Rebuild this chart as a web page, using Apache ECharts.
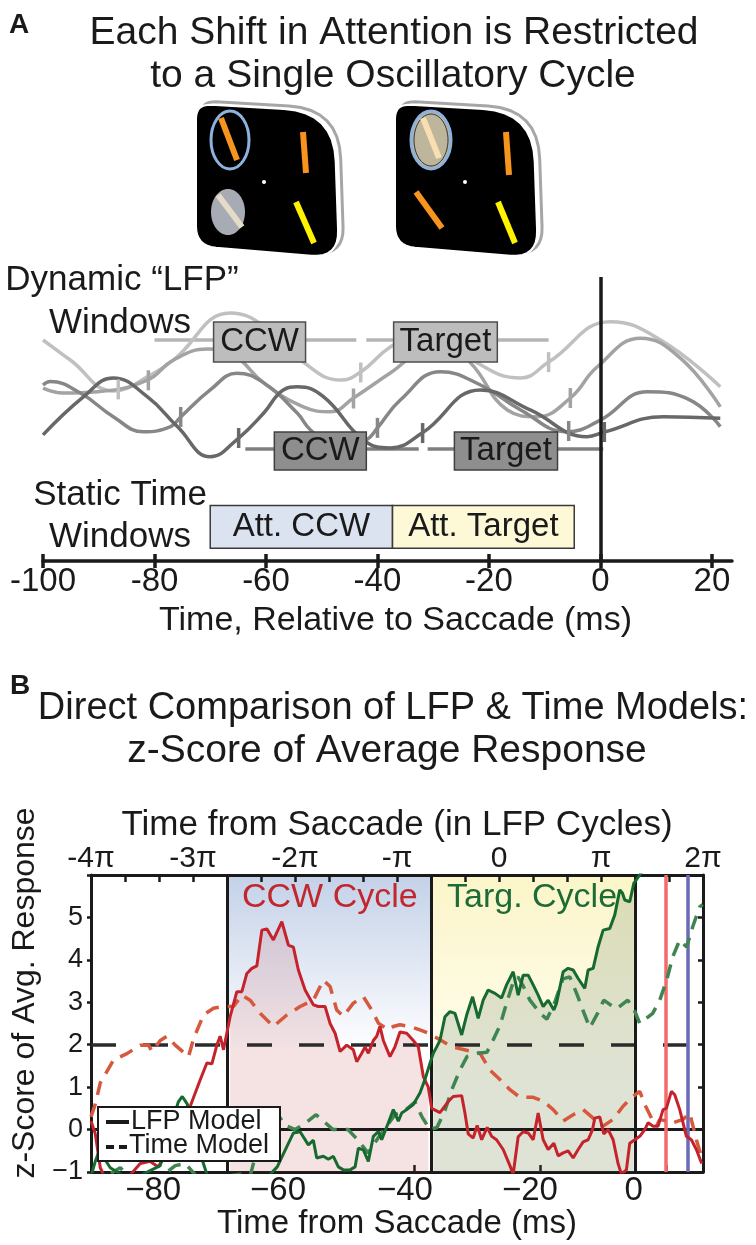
<!DOCTYPE html>
<html>
<head>
<meta charset="utf-8">
<script src="https://cdn.jsdelivr.net/npm/echarts@6/dist/echarts.min.js"></script>
<style>
  html, body { margin: 0; padding: 0; background: #fff; }
  #main { width: 756px; height: 1245px; }
</style>
</head>
<body>
<div id="main"></div>
<script>
// ---------- Panel B data: x = LFP phase (units of pi), y = z-score ----------
const lfpCCW = [[-4.00,0.2],[-3.958,-0.1],[-3.909,-0.9],[-3.831,-1.3],[-3.664,-1.2],[-3.517,-0.8],[-3.419,-0.75],[-3.341,-0.88],[-3.243,-0.5],[-3.145,-0.1],[-3.076,0.25],[-3.027,0.55],[-2.930,1.17],[-2.864,1.57],[-2.815,1.55],[-2.766,1.99],[-2.734,2.2],[-2.701,1.88],[-2.636,2.66],[-2.570,3.25],[-2.521,3.25],[-2.472,3.68],[-2.423,3.8],[-2.374,3.86],[-2.325,4.7],[-2.276,4.73],[-2.212,4.47],[-2.129,4.9],[-2.065,4.35],[-2.016,4.3],[-1.967,3.76],[-1.901,3.29],[-1.820,2.94],[-1.771,2.9],[-1.705,2.9],[-1.656,2.5],[-1.607,2.27],[-1.558,1.84],[-1.493,1.99],[-1.428,1.88],[-1.395,1.6],[-1.346,1.8],[-1.313,1.95],[-1.281,1.8],[-1.232,2.1],[-1.199,2.2],[-1.167,2.43],[-1.134,2.1],[-1.069,1.72],[-1.020,1.95],[-0.971,2.3],[-0.905,2.27],[-0.840,2.1],[-0.791,1.95],[-0.742,1.25],[-0.693,1.0],[-0.66,0.5],[-0.579,0.4],[-0.498,0.66],[-0.449,0.78],[-0.366,0.8],[-0.334,0.39],[-0.302,-0.1],[-0.253,-0.2],[-0.214,0.1],[-0.170,-0.24],[-0.116,0.05],[-0.072,-0.16],[-0.024,-0.24],[0.041,-0.47],[0.107,-0.85],[0.139,-1.05],[0.188,-0.17],[0.237,-0.05],[0.286,-0.08],[0.335,-0.24],[0.384,0.39],[0.433,-0.24],[0.482,-0.47],[0.538,-0.32],[0.580,-0.62],[0.629,-0.55],[0.678,-0.5],[0.727,-0.67],[0.776,-0.47],[0.825,-0.29],[0.874,-0.24],[0.917,0.0],[0.939,0.27],[0.988,0.3],[1.027,-0.1],[1.070,0.0],[1.119,-0.24],[1.167,-0.8],[1.200,-1.05],[1.249,-0.95],[1.282,-0.32],[1.331,-0.24],[1.380,-0.16],[1.429,0.0],[1.462,0.16],[1.511,0.08],[1.560,0.08],[1.608,0.47],[1.641,0.5],[1.690,0.9],[1.723,0.82],[1.772,0.47],[1.837,-0.16],[1.886,-0.24],[1.935,-0.47],[1.987,-0.8]];

const lfpTarg = [[-4.00,-1.1],[-3.958,-0.75],[-3.919,-0.5],[-3.811,-0.9],[-3.615,-1.2],[-3.321,-0.85],[-3.203,0.2],[-3.144,0.65],[-3.105,0.78],[-3.056,0.6],[-2.978,-0.2],[-2.831,-1.3],[-2.342,-1.3],[-2.174,-0.88],[-2.080,-0.4],[-2.015,-0.08],[-1.950,-0.05],[-1.869,-0.36],[-1.820,-0.25],[-1.787,-0.67],[-1.722,-0.63],[-1.673,-0.7],[-1.624,-0.63],[-1.575,-0.88],[-1.526,-0.95],[-1.460,-0.95],[-1.411,-0.88],[-1.379,-0.44],[-1.330,-0.48],[-1.281,-0.75],[-1.232,-0.16],[-1.183,-0.05],[-1.150,-0.24],[-1.085,0.16],[-1.036,0.47],[-0.987,0.2],[-0.954,0.39],[-0.905,0.47],[-0.840,0.59],[-0.775,0.86],[-0.726,1.18],[-0.677,1.56],[-0.644,1.8],[-0.611,1.95],[-0.579,2.1],[-0.530,2.66],[-0.481,2.78],[-0.432,2.74],[-0.366,2.23],[-0.317,2.7],[-0.259,3.13],[-0.204,2.62],[-0.155,3.05],[-0.106,3.29],[-0.040,3.21],[0.025,3.1],[0.074,3.41],[0.139,3.72],[0.188,3.17],[0.237,3.64],[0.286,3.64],[0.335,3.41],[0.384,3.17],[0.433,2.9],[0.482,3.05],[0.538,2.82],[0.564,2.98],[0.629,3.72],[0.678,3.8],[0.727,3.76],[0.776,3.56],[0.841,3.33],[0.874,3.76],[0.923,3.8],[0.972,4.31],[1.021,4.7],[1.086,4.74],[1.135,5.06],[1.184,5.65],[1.211,5.57],[1.233,5.41],[1.282,5.37],[1.321,5.8],[1.380,6.0],[1.478,6.4],[1.968,6.8]];

const timeCCW = [[-4.0,0.3],[-3.958,0.6],[-3.909,1.1],[-3.779,1.64],[-3.648,1.79],[-3.517,1.99],[-3.436,1.99],[-3.402,1.84],[-3.321,2.1],[-3.255,2.2],[-3.174,1.99],[-3.044,1.72],[-2.995,2.14],[-2.897,2.7],[-2.799,2.86],[-2.701,2.9],[-2.603,2.9],[-2.521,3.17],[-2.440,3.05],[-2.342,2.74],[-2.212,2.43],[-2.080,2.7],[-1.950,2.9],[-1.820,3.05],[-1.722,3.52],[-1.656,3.37],[-1.591,2.82],[-1.526,2.67],[-1.428,2.98],[-1.330,3.13],[-1.248,2.82],[-1.183,2.51],[-1.085,2.35],[-1.036,2.43],[-0.971,2.47],[-0.873,2.43],[-0.775,2.35],[-0.693,2.27],[-0.579,2.12],[-0.464,1.95],[-0.317,1.87],[-0.187,1.8],[-0.089,1.4],[0.009,1.18],[0.107,0.94],[0.205,0.76],[0.335,0.76],[0.433,0.67],[0.531,0.47],[0.629,0.2],[0.727,0.35],[0.825,0.47],[0.923,0.27],[1.021,0.08],[1.119,0.24],[1.216,0.55],[1.314,0.78],[1.380,0.9],[1.429,0.59],[1.495,0.27],[1.544,0.08],[1.576,0.24],[1.706,0.16],[1.804,0.24],[1.870,0.39],[1.935,-0.24],[1.984,-0.63]];

const timeTarg = [[-4.0,-1.3],[-3.713,-0.9],[-3.635,-1.1],[-3.419,-1.3],[-3.174,-0.85],[-3.076,-0.8],[-2.929,-1.2],[-2.538,-1.05],[-2.440,-1.1],[-2.322,0.0],[-2.195,0.45],[-2.097,0.1],[-1.999,0.0],[-1.901,0.15],[-1.793,0.35],[-1.627,0.0],[-1.480,0.0],[-1.382,-0.25],[-1.284,-0.55],[-1.186,-0.2],[-1.020,0.35],[-0.922,0.45],[-0.824,0.65],[-0.755,0.3],[-0.677,0.0],[-0.608,0.05],[-0.530,0.45],[-0.461,0.95],[-0.383,1.4],[-0.314,1.72],[-0.207,1.8],[-0.119,1.82],[-0.060,2.1],[0.009,2.45],[0.077,3.0],[0.136,3.45],[0.185,3.6],[0.234,3.4],[0.303,3.05],[0.401,2.75],[0.469,2.6],[0.547,3.0],[0.626,3.55],[0.694,3.6],[0.763,3.2],[0.841,2.7],[0.890,2.4],[0.969,2.75],[1.027,3.05],[1.086,2.95],[1.155,2.85],[1.262,3.05],[1.321,2.85],[1.380,2.5],[1.507,2.74],[1.576,3.05],[1.644,3.52],[1.703,4.07],[1.772,4.47],[1.840,4.3],[1.899,4.78],[1.968,5.25],[1.997,5.3]];

const cycleEdges = [-8 / 3, -2 / 3, 4 / 3];        // CCW cycle, Targ. cycle boundaries
const eventLines = [1.632, 1.853];                   // red and blue markers
const threshold = 2;
const timeLabelPos = [-3.390, -2.166, -0.922, 0.303, 1.321];
const timeLabels = ['\u221280', '\u221260', '\u221240', '\u221220', '0'];
const timeTickPos = [-0.834, 0.401, 1.635];

// ---------- Panel A data: x = time (ms), y = schematic LFP amplitude ----------
const lfpWave1 = [[-100,85.0],[-95.1,77.3],[-87.4,65.4],[-80.7,71.5],[-76.6,77.3],[-66.4,95.4],[-59.2,88.8],[-53.8,77.3],[-46.6,69.6],[-43.0,72.7],[-37.7,82.3],[-30.1,90.4],[-22.1,76.2],[-14.3,70.4],[-9.3,76.5],[1.8,92.0],[10.8,85.0],[21.5,67.0]];
const lfpWave2 = [[-100,66.5],[-96.3,64.6],[-90.2,65.1],[-81.3,69.6],[-76.6,77.3],[-70.5,81.5],[-65.8,79.2],[-60.4,68.5],[-53.3,59.3],[-48.4,57.4],[-44.3,62.7],[-37.7,72.3],[-28.7,84.6],[-23.3,76.2],[-16.7,58.1],[-11.4,55.5],[-5.4,62.7],[-0.6,74.6],[7.2,85.7],[14.3,78.1],[21.5,59.3]];
const lfpWave3 = [[-100,67.7],[-98.7,69.0],[-93.3,64.6],[-87.4,55.5],[-82.0,49.7],[-77.1,51.7],[-75.3,55.4],[-70.0,65.8],[-65.2,72.2],[-60.4,68.5],[-54.4,56.9],[-52.0,50.4],[-46.6,42.7],[-42.0,46.5],[-40.0,51.2],[-35.9,61.9],[-28.7,72.8],[-21.5,67.7],[-14.3,58.1],[-6.0,49.7],[0,54.2],[8.4,65.1],[16.1,61.9],[21.5,51.7]];
const lfpWave4 = [[-100,48.5],[-92.7,63.2],[-87.4,70.4],[-81.3,63.2],[-75.9,51.7],[-70.0,40.1],[-64.9,47.3],[-60.4,56.9],[-56.9,65.8],[-54.4,67.0],[-49.7,63.2],[-42.5,46.5],[-37.7,43.5],[-32.0,49.2],[-21.5,65.8],[-12.6,58.1],[-2.4,47.8],[0.7,49.6],[11.3,55.5],[21.5,54.9]];
const waveTicks = [
  [[-86.5,66.0],[-43.0,72.5],[-9.3,76.5]],
  [[-81.1,69.5],[-44.3,62.5],[-5.4,62.7]],
  [[-75.3,55.4],[-40.0,51.2],[-5.7,50.0]],
  [[-64.9,47.3],[-31.9,49.2],[0.7,49.6]]
];
const topRowLevel = 85.0;
const topRowSegments = [[-80.0,-43.8],[-42.0,-9.3]];
const topRowBoxes = [['CCW',-69.4,-52.9],['Target',-37.1,-18.5]];
const bottomRowLevel = 43.1;
const bottomRowSegments = [[-63.7,-32.6],[-31.0,0.5]];
const bottomRowBoxes = [['CCW',-58.5,-42.0],['Target',-26.2,-7.7]];
const staticWindows = [['Att. CCW',-70.0,-37.3],['Att. Target',-37.3,-4.7]];
const timeTicksA = [-100,-80,-60,-40,-20,0,20];

const FONT = "'Liberation Sans', Arial, Helvetica, sans-serif";
const INK = '#1a1a1a';
const waveColors = ['#c0c0c0', '#a3a3a3', '#878787', '#686868'];

const chart = echarts.init(document.getElementById('main'));

function piLabel(v) {
  const r = Math.round(v);
  if (Math.abs(v - r) > 1e-6) return '';
  if (r === 0) return '0';
  if (r === 1) return '\u03c0';
  if (r === -1) return '-\u03c0';
  return r + '\u03c0';
}
function nearestLabel(v) {
  let best = 0;
  timeLabelPos.forEach((p, i) => { if (Math.abs(p - v) < Math.abs(timeLabelPos[best] - v)) best = i; });
  return timeLabels[best];
}
const inRange = (arr, lo, hi) => arr.filter(p => p[0] >= lo && p[0] <= hi);

function text(t, x, y, size, opts) {
  return Object.assign({
    type: 'text', x: x, y: y, z: 100,
    style: Object.assign({ text: t, fontSize: size, fontFamily: FONT, fill: INK, align: 'center', verticalAlign: 'middle' }, (opts && opts.style) || {})
  }, opts && opts.el || {});
}
function bar(x1, y1, x2, y2, color) {
  return { type: 'line', z: 100, shape: { x1: x1, y1: y1, x2: x2, y2: y2 }, style: { stroke: color, lineWidth: 6 } };
}

// rounded outline of a monitor (decoration): corners with their radii, relative to the top-left
const monitorCorners = [[0, 0, 15], [138, 8, 50], [143, 154, 28], [0, 142, 20]];
function roundedOutline(corners) {
  const pts = [];
  const n = corners.length;
  for (let i = 0; i < n; i++) {
    const v = corners[i], p = corners[(i + n - 1) % n], q = corners[(i + 1) % n];
    const dp = Math.hypot(p[0] - v[0], p[1] - v[1]), dq = Math.hypot(q[0] - v[0], q[1] - v[1]);
    const s = [v[0] + (p[0] - v[0]) * v[2] / dp, v[1] + (p[1] - v[1]) * v[2] / dp];
    const e = [v[0] + (q[0] - v[0]) * v[2] / dq, v[1] + (q[1] - v[1]) * v[2] / dq];
    for (let k = 0; k <= 8; k++) {
      const t = k / 8, a = (1 - t) * (1 - t), b = 2 * t * (1 - t), c = t * t;
      pts.push([a * s[0] + b * v[0] + c * e[0], a * s[1] + b * v[1] + c * e[1]]);
    }
  }
  return pts;
}
const monitorPts = roundedOutline(monitorCorners);
function monitor(x0) {
  return [
    { type: 'polygon', x: x0 + 5, y: 101, z: 99, shape: { points: monitorPts }, style: { fill: null, stroke: '#a6a6a6', lineWidth: 3 } },
    { type: 'polygon', x: x0, y: 104, z: 100, shape: { points: monitorPts }, style: { fill: '#000', stroke: '#fff', lineWidth: 2 } }
  ];
}

const graphics = [].concat(
  [
    text('A', 19, 25, 28, { style: { fontWeight: 'bold' } }),
    text('Each Shift in Attention is Restricted', 394, 33, 39),
    text('to a Single Oscillatory Cycle', 393, 76, 39)
  ],
  monitor(196), monitor(395),
  [
    // left screen
    { type: 'ellipse', z: 101, shape: { cx: 230, cy: 140, rx: 19, ry: 29 }, style: { fill: null, stroke: '#8db2de', lineWidth: 3 } },
    bar(221, 118, 237, 160, '#f7941d'),
    bar(303, 132, 306, 173, '#f7941d'),
    { type: 'circle', z: 101, shape: { cx: 264, cy: 182, r: 2 }, style: { fill: '#fff' } },
    { type: 'ellipse', z: 101, shape: { cx: 228, cy: 212, rx: 17, ry: 23 }, style: { fill: '#a7abb3' } },
    Object.assign(bar(218, 195, 242, 227, '#e6dac8'), { z: 102 }),
    bar(296, 202, 314, 243, '#fff200'),
    // right screen
    { type: 'ellipse', z: 101, shape: { cx: 431, cy: 140, rx: 20, ry: 29 }, style: { fill: '#bdb59c', stroke: '#8db2de', lineWidth: 3 } },
    { type: 'ellipse', z: 102, shape: { cx: 431, cy: 140, rx: 17, ry: 26 }, style: { fill: null, stroke: '#333', lineWidth: 1 } },
    Object.assign(bar(423, 118, 439, 158, '#f8deb0'), { z: 103 }),
    bar(506, 132, 509, 175, '#f7941d'),
    { type: 'circle', z: 101, shape: { cx: 465, cy: 182, r: 2 }, style: { fill: '#fff' } },
    bar(416, 192, 442, 228, '#f7941d'),
    bar(498, 202, 515, 243, '#fff200'),

    text('Dynamic \u201cLFP\u201d', 122, 280, 35),
    text('Windows', 120, 323, 35),
    text('Static Time', 120, 495, 35),
    text('Windows', 120, 537, 35),

    text('B', 20, 686, 28, { style: { fontWeight: 'bold' } }),
    text('Direct Comparison of LFP & Time Models:', 393, 709, 38),
    text('z-Score of Average Response', 387, 751, 39),
    text('z-Score of Avg. Response', 25, 993, 32, { el: { rotation: Math.PI / 2 } }),
    text('CCW Cycle', 242, 898, 34, { style: { align: 'left', fill: '#c1272d' } }),
    text('Targ. Cycle', 447, 898, 34, { style: { align: 'left', fill: '#1d6b36' } }),

    // legend
    { type: 'rect', z: 100, shape: { x: 98, y: 1107, width: 182, height: 54 }, style: { fill: '#fff', stroke: INK, lineWidth: 2 } },
    { type: 'line', z: 101, shape: { x1: 106, y1: 1122, x2: 129, y2: 1122 }, style: { stroke: INK, lineWidth: 4 } },
    { type: 'line', z: 101, shape: { x1: 106, y1: 1147, x2: 129, y2: 1147 }, style: { stroke: INK, lineWidth: 4, lineDash: [8, 5] } },
    text('LFP Model', 131, 1122, 27, { style: { align: 'left' } }),
    text('Time Model', 129, 1146, 27, { style: { align: 'left' } })
  ]
);

const blueGrad = new echarts.graphic.LinearGradient(0, 0, 0, 1, [
  { offset: 0, color: '#c3d1e8' }, { offset: 0.6, color: '#ffffff' }, { offset: 1, color: '#ffffff' }]);
const yellowGrad = new echarts.graphic.LinearGradient(0, 0, 0, 1, [
  { offset: 0, color: '#fbf5c8' }, { offset: 0.7, color: '#fffef2' }, { offset: 1, color: '#fffef2' }]);

const boxLabel = { show: true, position: 'inside', fontSize: 33, fontFamily: FONT, color: INK };
function boxes(list, yLo, yHi, fill, border) {
  return list.map(b => [
    { name: b[0], coord: [b[1], yHi], itemStyle: { color: fill, borderColor: border, borderWidth: 1.5, opacity: 1 } },
    { coord: [b[2], yLo] }
  ]);
}
function segs(list, level, style) {
  return list.map(s => [{ coord: [s[0], level], lineStyle: style }, { coord: [s[1], level] }]);
}
function markerSeries(name, z, extra) {
  return Object.assign({ name: name, type: 'line', xAxisIndex: 2, yAxisIndex: 2, data: [], z: z, silent: true }, extra);
}
const solid = (color, width) => ({ color: color, width: width, type: 'solid' });

const option = {
  animation: false,
  textStyle: { fontFamily: FONT },
  graphic: { elements: graphics },
  grid: [
    { left: 91, top: 875, width: 612, height: 297 },
    { left: 43, top: 275, width: 689, height: 286 }
  ],
  xAxis: [
    { gridIndex: 0, type: 'value', position: 'bottom', min: -4, max: 2,
      axisLine: { onZero: false, lineStyle: { color: INK, width: 3 } },
      axisTick: { inside: true, length: 7, customValues: timeTickPos, lineStyle: { color: INK, width: 2.5 } },
      axisLabel: { customValues: timeLabelPos, formatter: v => nearestLabel(v), fontSize: 33, margin: 2, color: INK, fontFamily: FONT },
      splitLine: { show: false },
      name: 'Time from Saccade (ms)', nameLocation: 'middle', nameGap: 34,
      nameTextStyle: { fontSize: 33, color: INK, fontFamily: FONT } },
    { gridIndex: 0, type: 'value', position: 'top', min: -4, max: 2, interval: 1,
      axisLine: { onZero: false, lineStyle: { color: INK, width: 3 } },
      axisTick: { inside: true, length: 7, lineStyle: { color: INK, width: 2.5 } },
      minorTick: { show: true, splitNumber: 3, length: 7, lineStyle: { color: INK, width: 2.5 } },
      axisLabel: { formatter: piLabel, fontSize: 30, margin: 1, color: INK, fontFamily: FONT, showMinLabel: true, showMaxLabel: true },
      splitLine: { show: false },
      name: 'Time from Saccade (in LFP Cycles)', nameLocation: 'middle', nameGap: 27,
      nameTextStyle: { fontSize: 35, color: INK, fontFamily: FONT } },
    { gridIndex: 1, type: 'value', position: 'bottom', min: -100, max: 23.6,
      axisLine: { onZero: false, lineStyle: { color: INK, width: 3.5 } },
      axisTick: { length: 7, customValues: timeTicksA, lineStyle: { color: INK, width: 3.5 } },
      axisLabel: { customValues: timeTicksA, fontSize: 33, margin: 4, color: INK, fontFamily: FONT },
      splitLine: { show: false },
      name: 'Time, Relative to Saccade (ms)', nameLocation: 'middle', nameGap: 43,
      nameTextStyle: { fontSize: 34, color: INK, fontFamily: FONT, padding: [0, 0, 0, 16] } },
    { gridIndex: 1, type: 'value', position: 'bottom', min: -100, max: 23.6,
      axisLine: { show: false },
      axisTick: { inside: true, length: 7, customValues: timeTicksA, lineStyle: { color: INK, width: 3.5 } },
      axisLabel: { show: false }, splitLine: { show: false } }
  ],
  yAxis: [
    { gridIndex: 0, type: 'value', position: 'left', min: -1, max: 6, interval: 1,
      axisLine: { onZero: false, lineStyle: { color: INK, width: 3 } },
      axisTick: { length: 4, lineStyle: { color: INK, width: 2.5 } },
      axisLabel: { formatter: v => (v === 6 ? '' : v < 0 ? '\u2212' + Math.abs(v) : String(v)), fontSize: 27, margin: 8, color: INK, fontFamily: FONT },
      splitLine: { show: false } },
    { gridIndex: 0, type: 'value', position: 'right', min: -1, max: 6, interval: 1,
      axisLine: { onZero: false, lineStyle: { color: INK, width: 3 } },
      axisTick: { inside: true, length: 5, lineStyle: { color: INK, width: 2.5 } },
      axisLabel: { show: false }, splitLine: { show: false } },
    { gridIndex: 1, type: 'value', min: 0, max: 110, show: false }
  ],
  series: [
    // ---- panel B ----
    { name: 'cycles', type: 'line', xAxisIndex: 0, yAxisIndex: 0, data: [], z: 0, silent: true,
      markArea: { silent: true, z: 0, data: [
        [{ coord: [cycleEdges[0], 6], itemStyle: { color: blueGrad, opacity: 1 } }, { coord: [cycleEdges[1], -1] }],
        [{ coord: [cycleEdges[1], 6], itemStyle: { color: yellowGrad, opacity: 1 } }, { coord: [cycleEdges[2], -1] }]
      ] } },
    { name: 'CCW fill', type: 'line', xAxisIndex: 0, yAxisIndex: 0, z: 1, silent: true, showSymbol: false,
      data: inRange(lfpCCW, cycleEdges[0], cycleEdges[1]),
      lineStyle: { width: 0 }, areaStyle: { color: 'rgba(185,60,65,0.2)', origin: 'start' } },
    { name: 'Targ fill', type: 'line', xAxisIndex: 0, yAxisIndex: 0, z: 1, silent: true, showSymbol: false,
      data: inRange(lfpTarg, cycleEdges[1], cycleEdges[2]),
      lineStyle: { width: 0 }, areaStyle: { color: 'rgba(75,105,85,0.26)', origin: 'start' } },
    { name: 'guides', type: 'line', xAxisIndex: 0, yAxisIndex: 0, data: [], z: 2, silent: true,
      markLine: { silent: true, z: 2, symbol: 'none', label: { show: false }, data: [
        [{ coord: [-4, threshold], lineStyle: { color: '#2b2b2b', width: 3.5, type: [25, 27] } }, { coord: [1.84, threshold] }],
        [{ coord: [-4, 0], lineStyle: solid(INK, 3) }, { coord: [2, 0] }],
        ...cycleEdges.map(v => [{ coord: [v, -1], lineStyle: solid(INK, 3) }, { coord: [v, 6] }]),
        [{ coord: [eventLines[0], -1], lineStyle: solid('#f36b6b', 3.5) }, { coord: [eventLines[0], 6] }],
        [{ coord: [eventLines[1], -1], lineStyle: solid('#6a6ab8', 3.5) }, { coord: [eventLines[1], 6] }]
      ] } },
    { name: 'Time Model CCW', type: 'line', xAxisIndex: 0, yAxisIndex: 0, z: 3, showSymbol: false, data: timeCCW,
      lineStyle: { color: '#d6593d', width: 3.5, type: [14, 9] } },
    { name: 'Time Model Targ', type: 'line', xAxisIndex: 0, yAxisIndex: 0, z: 3, showSymbol: false, data: timeTarg,
      lineStyle: { color: '#3f8552', width: 3.5, type: [14, 9] } },
    { name: 'LFP Model CCW', type: 'line', xAxisIndex: 0, yAxisIndex: 0, z: 4, showSymbol: false, data: lfpCCW,
      lineStyle: { color: '#c4232b', width: 3 } },
    { name: 'LFP Model Targ', type: 'line', xAxisIndex: 0, yAxisIndex: 0, z: 4, showSymbol: false, data: lfpTarg,
      lineStyle: { color: '#16692f', width: 3 } },

    // ---- panel A ----
    markerSeries('LFP window lines', 2, {
      markLine: { silent: true, z: 2, symbol: 'none', label: { show: false }, data: [
        ...segs(topRowSegments, topRowLevel, solid('#b5b5b5', 3.5)),
        ...segs(bottomRowSegments, bottomRowLevel, solid('#7f7f7f', 3.5))
      ] } }),
    ...[lfpWave1, lfpWave2, lfpWave3, lfpWave4].map((w, i) => ({
      name: 'LFP ' + (i + 1), type: 'line', xAxisIndex: 2, yAxisIndex: 2, z: 3, smooth: 0.45, showSymbol: false,
      data: w, lineStyle: { color: waveColors[i], width: 3.5 } })),
    ...waveTicks.map((t, i) => ({
      name: 'ticks ' + (i + 1), type: 'scatter', xAxisIndex: 2, yAxisIndex: 2, z: 4, symbol: 'rect',
      symbolSize: [3.5, 20], data: t, itemStyle: { color: waveColors[i], opacity: 1 } })),
    markerSeries('LFP window boxes', 8, {
      markArea: { silent: true, z: 8, label: boxLabel, data: [
        ...boxes(topRowBoxes, 76.5, 91.9, '#bdbdbd', '#4d4d4d'),
        ...boxes(bottomRowBoxes, 35.0, 49.6, '#8e8e8e', '#404040')
      ] } }),
    markerSeries('static windows', 8, {
      markArea: { silent: true, z: 8, label: boxLabel, data: [
        ...boxes([staticWindows[0]], 4.9, 21.3, '#dbe3f0', '#3a3a3a'),
        ...boxes([staticWindows[1]], 4.9, 21.3, '#fdf8d6', '#3a3a3a')
      ] } }),
    markerSeries('saccade', 9, {
      markLine: { silent: true, z: 9, symbol: 'none', label: { show: false },
        lineStyle: solid(INK, 3.5), data: [[{ coord: [0, 0] }, { coord: [0, 109.2] }]] } })
  ]
};

chart.setOption(option);
window.addEventListener('resize', function () { chart.resize(); });
</script>
</body>
</html>
